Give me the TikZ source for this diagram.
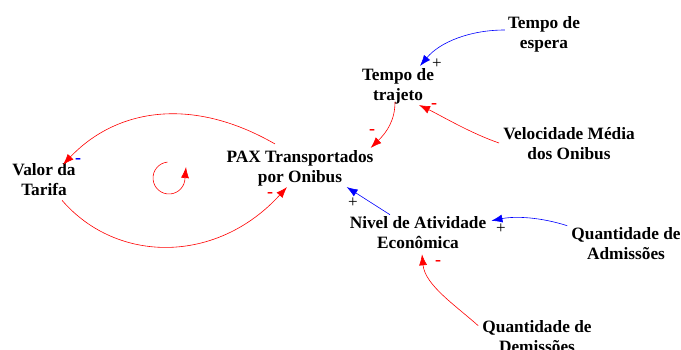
\documentclass[tikz,border=0pt]{standalone}
\usepackage{fontspec}
\setmainfont{Liberation Serif}
\usetikzlibrary{arrows.meta}
\tikzset{
  var/.style={font=\fontsize{17.3}{20}\selectfont\bfseries, align=center, inner sep=1pt},
  link/.style={line width=0.6pt, -{Latex[length=11pt,width=8pt]}},
  sgn/.style={font=\fontsize{17}{17}\selectfont, inner sep=0pt},
  sgnm/.style={font=\fontsize{18}{18}\selectfont\bfseries, inner sep=0pt}
}
\begin{document}
\begin{tikzpicture}[x=1pt,y=-1pt]
\useasboundingbox (0,0) rectangle (681,349);
\node[var] (valor) at (44,180) {Valor da\\Tarifa};
\node[var] (pax) at (300,168) {PAX Transportados\\por Onibus};
\node[var] (trajeto) at (398,86) {Tempo de\\trajeto};
\node[var] (espera) at (544,34) {Tempo de\\espera};
\node[var] (veloc) at (569,144) {Velocidade Média\\dos Onibus};
\node[var] (nivel) at (418,233) {Nivel de Atividade\\Econômica};
\node[var] (admiss) at (626,244) {Quantidade de\\Admissões};
\node[var] (demiss) at (537,337) {Quantidade de\\Demissões};
% PAX -> Valor
\draw[link,red] ([xshift=-25pt,yshift=5pt]pax.north) .. controls (190,95) and (115,110) .. ([xshift=19pt,yshift=-2pt]valor.north);
% Valor -> PAX
\draw[link,red] ([xshift=18pt,yshift=-3pt]valor.south) .. controls (117,264) and (217,264) .. ([xshift=-13pt]pax.south);
% loop symbol
\coordinate (loopc) at (169,178);
\draw[red,line width=0.6pt,-{Latex[length=11pt,width=8pt]}] ([shift={(95:16pt)}]loopc) arc[start angle=95,end angle=360,radius=16pt] -- ++(1pt,11pt);
% Trajeto -> PAX
\draw[link,red] ([xshift=-3pt,yshift=3pt]trajeto.south) .. controls (395,120) and (387,132) .. ([xshift=-4pt,yshift=1pt]pax.north east);
% Espera -> Trajeto
\draw[link,blue] ([xshift=-2pt,yshift=4pt]espera.west) .. controls (470,30) and (440,42) .. ([xshift=22pt,yshift=1pt]trajeto.north);
% Veloc -> Trajeto
\draw[link,red] ([xshift=-3pt,yshift=1pt]veloc.west) .. controls (470,133) and (440,115) .. ([xshift=21pt]trajeto.south);
% Nivel -> PAX
\draw[link,blue] ([xshift=-28pt,yshift=1pt]nivel.north) -- ([xshift=-28pt]pax.south east);
% Admiss -> Nivel
\draw[link,blue] ([xshift=-3pt,yshift=1pt]admiss.north west) .. controls (540,217) and (515,216) .. ([xshift=4pt,yshift=-5pt]nivel.north east);
% Demiss -> Nivel
\draw[link,red] ([xshift=-3pt,yshift=-6pt]demiss.north west) .. controls (455,305) and (425,285) .. ([xshift=4pt,yshift=-4pt]nivel.south);
% polarity signs
\node[sgnm,blue] (s1) at (78,161) {-};
\node[sgnm,red] (s2) at (270,195) {-};
\node[sgnm,red] (s3) at (372,132) {-};
\node[sgn] (s4) at (437,64) {+};
\node[sgnm,red] (s5) at (434,106) {-};
\node[sgn] (s6) at (353,203) {+};
\node[sgn] (s7) at (501,229) {+};
\node[sgnm,red] (s8) at (438,263) {-};
\end{tikzpicture}
\end{document}
